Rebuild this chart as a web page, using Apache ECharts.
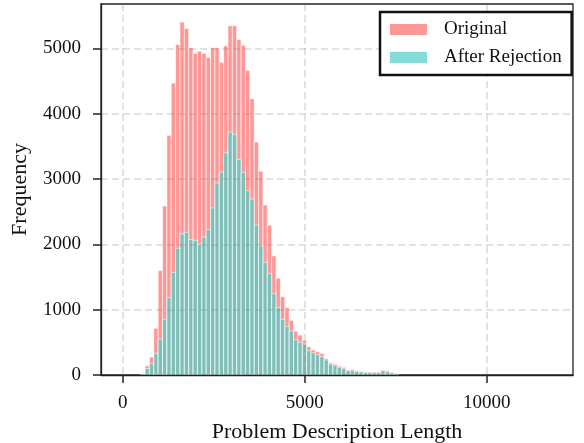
<!DOCTYPE html>
<html>
<head>
<meta charset="utf-8">
<script src="https://cdn.jsdelivr.net/npm/echarts@6/dist/echarts.min.js"></script>
<style>html,body{margin:0;padding:0;background:#fff}#c{width:584px;height:443px}</style>
</head>
<body>
<div id="c"></div>
<script>
// Histogram bins (equal width), counts
const binStart = 490;
const binWidth = 120;
const originalCounts = [20,140,276,715,1598,2588,3670,4470,5060,5405,5305,5010,4925,4955,4925,4860,5012,5012,4788,5040,5348,5348,5138,5050,4660,4231,3568,3120,2603,2292,1825,1483,1200,1034,837,670,612,530,434,383,357,332,255,189,168,138,117,77,87,66,56,46,46,46,46,77,66,41,31];
const rejectedCounts = [20,100,174,332,551,853,1184,1572,1940,2159,2185,2073,2062,2001,2113,2226,2558,2940,3105,3402,3720,3685,3300,3100,2823,2695,2297,1980,1726,1552,1245,1031,853,740,674,541,500,475,372,342,311,281,230,168,148,117,97,66,66,56,46,36,36,36,36,66,51,31,20];
const xTicks = [0, 5000, 10000];
const yTicks = [0, 1000, 2000, 3000, 4000, 5000];
const seriesNames = ['Original', 'After Rejection'];
const colors = ['rgba(255,107,107,0.7)', 'rgba(78,205,196,0.7)'];

function toBins(counts) {
  return counts.map((c, i) => [binStart + i * binWidth, binStart + (i + 1) * binWidth, c]);
}
function makeRender(color) {
  return function (params, api) {
    const p0 = api.coord([api.value(0), api.value(2)]);
    const p1 = api.coord([api.value(1), 0]);
    return {
      type: 'rect',
      shape: { x: p0[0], y: p0[1], width: p1[0] - p0[0], height: p1[1] - p0[1] },
      style: { fill: color, stroke: 'rgba(255,255,255,0.75)', lineWidth: 0.8 }
    };
  };
}
const font = 'Liberation Serif';
const textColor = '#111';
const chart = echarts.init(document.getElementById('c'), null, { renderer: 'canvas' });
chart.setOption({
  animation: false,
  backgroundColor: '#fff',
  grid: { left: 101, right: 11, top: 4, bottom: 68, containLabel: false, outerBoundsMode: 'none',
          show: true, borderColor: '#222', borderWidth: 1.3, backgroundColor: 'transparent' },
  legend: {
    orient: 'vertical', left: 380, top: 12,
    data: seriesNames, icon: 'rect', itemWidth: 37, itemHeight: 11, itemGap: 9,
    padding: [8, 10, 8, 10], borderColor: '#111', borderWidth: 2.5, borderRadius: 0, backgroundColor: '#fff',
    textStyle: { fontFamily: font, fontSize: 19, color: textColor, padding: [0, 0, 0, 12], lineHeight: 19 }
  },
  xAxis: {
    type: 'value', min: -600, max: 12370, z: 3,
    name: 'Problem Description Length', nameLocation: 'middle', nameGap: 46,
    nameTextStyle: { fontFamily: font, fontSize: 22, color: textColor },
    axisLine: { show: true, onZero: false, lineStyle: { color: '#222', width: 1.3 } },
    axisTick: { show: true, length: 8, lineStyle: { color: '#222', width: 1.5 }, customValues: xTicks },
    axisLabel: { margin: 19, fontFamily: font, fontSize: 19, color: textColor, customValues: xTicks, formatter: v => String(v) },
    splitLine: { show: true, lineStyle: { color: 'rgba(128,128,128,0.3)', width: 1.5, type: [7, 4] }, customValues: xTicks }
  },
  yAxis: {
    type: 'value', min: 0, max: 5680, z: 3,
    name: 'Frequency', nameLocation: 'middle', nameGap: 70,
    nameTextStyle: { fontFamily: font, fontSize: 22, color: textColor },
    axisLine: { show: true, onZero: false, lineStyle: { color: '#222', width: 1.3 } },
    axisTick: { show: true, length: 8, lineStyle: { color: '#222', width: 1.5 }, customValues: yTicks },
    axisLabel: { margin: 20, fontFamily: font, fontSize: 19, color: textColor, customValues: yTicks, formatter: v => String(v) },
    splitLine: { show: true, lineStyle: { color: 'rgba(128,128,128,0.3)', width: 1.5, type: [7, 4] }, customValues: yTicks }
  },
  series: [
    { type: 'custom', name: seriesNames[0], renderItem: makeRender(colors[0]), itemStyle: { color: colors[0] },
      encode: { x: [0, 1], y: 2 }, data: toBins(originalCounts), z: 1 },
    { type: 'custom', name: seriesNames[1], renderItem: makeRender(colors[1]), itemStyle: { color: colors[1] },
      encode: { x: [0, 1], y: 2 }, data: toBins(rejectedCounts), z: 2 }
  ]
});
</script>
</body>
</html>
